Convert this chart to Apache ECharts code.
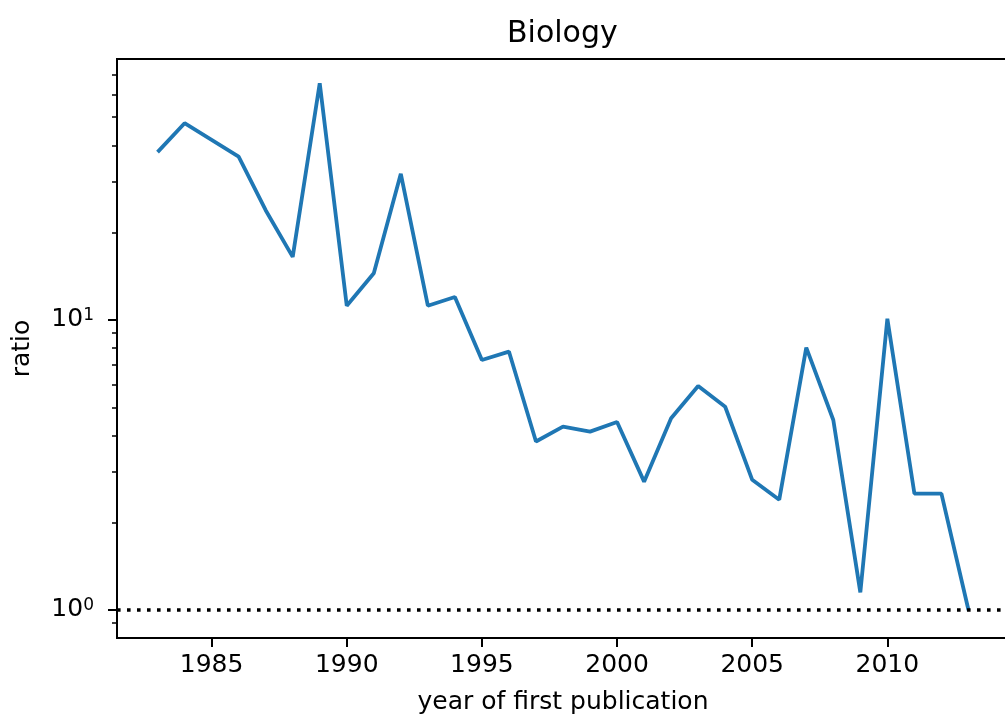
<!DOCTYPE html>
<html>
<head>
<meta charset="utf-8">
<script src="https://cdn.jsdelivr.net/npm/echarts@6/dist/echarts.min.js"></script>
<style>
html,body{margin:0;padding:0;background:#fff;}
#chart{width:1005px;height:721px;}
</style>
</head>
<body>
<div id="chart"></div>
<script>
var years = [1983,1984,1985,1986,1987,1988,1989,1990,1991,1992,1993,1994,1995,1996,1997,1998,1999,2000,2001,2002,2003,2004,2005,2006,2007,2008,2009,2010,2011,2012,2013];
var ratios = [37.9,47.7,41.8,36.6,23.9,16.5,65.5,11.2,14.5,31.9,11.2,12.0,7.28,7.78,3.81,4.29,4.12,4.45,2.77,4.58,5.92,5.02,2.81,2.40,8.03,4.52,1.15,10.1,2.52,2.52,1.0];
var xTickValues = [1985,1990,1995,2000,2005,2010];
var yTickValues = [1,10];
var yTickExponents = ['0','1'];
var yMinorTicks = [0.9,2,3,4,5,6,7,8,9,20,30,40,50,60,70];
var referenceLevel = 1;

var FONT = 'DejaVu Sans';
var chart = echarts.init(document.getElementById('chart'), null, {renderer:'canvas'});
var seriesData = years.map(function(y,i){ return [y, ratios[i]]; });

chart.setOption({
  animation:false,
  backgroundColor:'#fff',
  title:{
    text:'Biology', left:502, top:14,
    textStyle:{fontFamily:FONT, fontSize:30, fontWeight:'normal', color:'#000', lineHeight:30}
  },
  grid:{left:117, width:892, top:59, bottom:83, outerBoundsMode:'none', containLabel:false,
    show:true, borderColor:'#000', borderWidth:2, backgroundColor:'transparent'},
  xAxis:{
    type:'value', min:1981.5, max:2014.5,
    name:'year of first publication', nameLocation:'middle', nameGap:52,
    nameTextStyle:{fontFamily:FONT, fontSize:25, color:'#000'},
    axisLine:{show:true, lineStyle:{color:'#000', width:2}},
    axisTick:{show:true, inside:false, length:9, lineStyle:{color:'#000', width:2}, customValues:xTickValues},
    axisLabel:{fontFamily:FONT, fontSize:25, color:'#000', margin:15, customValues:xTickValues,
      formatter:function(v){ return String(v); }},
    splitLine:{show:false}
  },
  yAxis:[{
    type:'log', logBase:10, min:0.8005, max:79.4, position:'left',
    name:'ratio', nameLocation:'middle', nameGap:82,
    nameTextStyle:{fontFamily:FONT, fontSize:25, color:'#000'},
    axisLine:{show:true, lineStyle:{color:'#000', width:2}},
    axisTick:{show:true, inside:false, length:9, lineStyle:{color:'#000', width:2}, customValues:yTickValues},
    axisLabel:{
      fontFamily:FONT, fontSize:25, lineHeight:25, color:'#000', margin:23,
      customValues:yTickValues,
      formatter:function(v){
        var idx = yTickValues.indexOf(v);
        return '10{s|' + yTickExponents[idx] + '}';
      },
      rich:{s:{fontFamily:FONT, fontSize:17, lineHeight:14, verticalAlign:'top', color:'#000'}}
    },
    splitLine:{show:false}
  },{
    type:'log', logBase:10, min:0.8005, max:79.4, position:'left',
    axisLine:{show:false},
    axisTick:{show:true, inside:false, length:5, lineStyle:{color:'#000', width:1.5}, customValues:yMinorTicks},
    axisLabel:{show:false},
    splitLine:{show:false}
  }],
  series:[{
    type:'line', data:seriesData, xAxisIndex:0, yAxisIndex:0,
    showSymbol:false, symbol:'none',
    lineStyle:{color:'#1f77b4', width:3.8},
    itemStyle:{color:'#1f77b4'},
    z:3,
    markLine:{
      silent:true, symbol:'none', animation:false,
      label:{show:false},
      lineStyle:{color:'#000', width:3.6, type:[3.6,6.4]},
      data:[{yAxis:referenceLevel}]
    }
  }]
});
</script>
</body>
</html>
